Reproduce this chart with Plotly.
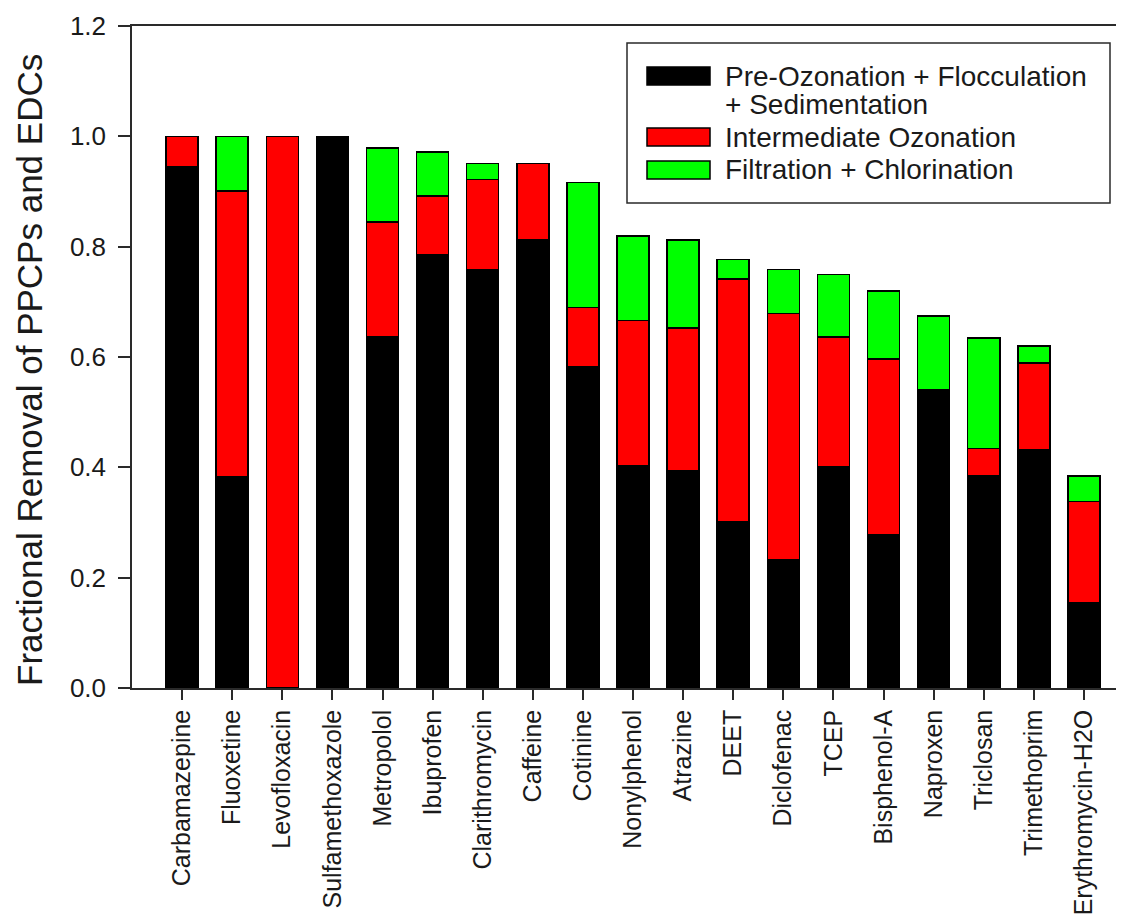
import plotly.graph_objects as go

compounds = ["Carbamazepine", "Fluoxetine", "Levofloxacin", "Sulfamethoxazole", "Metropolol",
             "Ibuprofen", "Clarithromycin", "Caffeine", "Cotinine", "Nonylphenol", "Atrazine",
             "DEET", "Diclofenac", "TCEP", "Bisphenol-A", "Naproxen", "Triclosan",
             "Trimethoprim", "Erythromycin-H2O"]

pre_ozonation = [0.945, 0.383, 0.0, 1.0, 0.636, 0.785, 0.758, 0.813, 0.582, 0.402, 0.394,
                 0.301, 0.233, 0.401, 0.277, 0.540, 0.384, 0.431, 0.154]
intermediate_ozonation = [0.055, 0.518, 1.0, 0.0, 0.209, 0.107, 0.164, 0.138, 0.108, 0.264, 0.259,
                          0.440, 0.446, 0.235, 0.319, 0.0, 0.050, 0.158, 0.184]
filtration_chlorination = [0.0, 0.099, 0.0, 0.0, 0.134, 0.080, 0.029, 0.0, 0.226, 0.153, 0.159,
                           0.036, 0.080, 0.114, 0.124, 0.134, 0.200, 0.031, 0.046]

series_names = ["Pre-Ozonation + Flocculation + Sedimentation", "Intermediate Ozonation",
                "Filtration + Chlorination"]
series_colors = ["#000000", "#ff0000", "#00ff00"]
y_ticks = [0.0, 0.2, 0.4, 0.6, 0.8, 1.0, 1.2]

FONT = "Liberation Sans, Arial, Helvetica, sans-serif"
OFF = 8  # page body margin
W, H = 1124 - OFF, 923 - OFF
ML, MR, MT, MB = 132 - OFF, 0, 26 - OFF, 235
PW, PH = W - ML - MR, H - MT - MB


def px(x):
    # screen x -> paper
    return (x - OFF - ML) / PW


def py(y):
    # screen y -> paper
    return (H - MB - (y - OFF)) / PH


fig = go.Figure()
for name, vals, col in zip(series_names, [pre_ozonation, intermediate_ozonation, filtration_chlorination], series_colors):
    fig.add_trace(go.Bar(x=compounds, y=vals, name=name,
                         marker=dict(color=col, line=dict(color="#000000", width=1.5)),
                         showlegend=False))

fig.update_layout(
    width=W, height=H,
    barmode="stack", bargap=0.36,
    margin=dict(l=ML, r=MR, t=MT, b=MB, autoexpand=False),
    paper_bgcolor="white", plot_bgcolor="white",
    font=dict(family=FONT, color="#1a1a1a"),
)
fig.update_xaxes(
    type="category", range=[-1.0, 18.8], automargin=False,
    showline=True, linecolor="#2a2a2a", linewidth=1.5, mirror=True,
    ticks="outside", ticklen=10, tickwidth=1.5, tickcolor="#2a2a2a",
    tickangle=-90, tickfont=dict(size=25, family=FONT, color="#1a1a1a"),
    showgrid=False, zeroline=False,
)
fig.update_yaxes(
    range=[0, 1.2], tickvals=y_ticks, ticktext=[f"{v:.1f}" for v in y_ticks], automargin=False,
    showline=True, linecolor="#2a2a2a", linewidth=1.5, mirror=False,
    ticks="outside", ticklen=12, tickwidth=1.5, tickcolor="#2a2a2a",
    ticklabelstandoff=7,
    tickfont=dict(size=26, family=FONT, color="#1a1a1a"),
    showgrid=False, zeroline=False,
)

# y-axis title
fig.add_annotation(text="Fractional Removal of PPCPs and EDCs", textangle=-90,
                   xref="paper", yref="paper", x=px(29), y=py(370), xanchor="center", yanchor="middle",
                   showarrow=False, font=dict(size=35, family=FONT, color="#1a1a1a"))

# legend box
fig.add_shape(type="rect", xref="paper", yref="paper", x0=px(627), x1=px(1110), y0=py(203), y1=py(43),
              line=dict(color="#2a2a2a", width=1.5), fillcolor="white", layer="above")
legend_rows = [(76, ["Pre-Ozonation + Flocculation", "+ Sedimentation"], [76, 105]),
               (137, ["Intermediate Ozonation"], [137]),
               (170, ["Filtration + Chlorination"], [170])]
for (sw_y, texts, text_ys), col in zip(legend_rows, series_colors):
    fig.add_shape(type="rect", xref="paper", yref="paper", x0=px(647), x1=px(710),
                  y0=py(sw_y + 9), y1=py(sw_y - 9),
                  line=dict(color="#000000", width=1.5), fillcolor=col, layer="above")
    for t, ty in zip(texts, text_ys):
        fig.add_annotation(text=t, xref="paper", yref="paper", x=px(723), y=py(ty),
                           xanchor="left", yanchor="middle",
                           showarrow=False, font=dict(size=28, family=FONT, color="#1a1a1a"))

fig.write_html("out.html")
